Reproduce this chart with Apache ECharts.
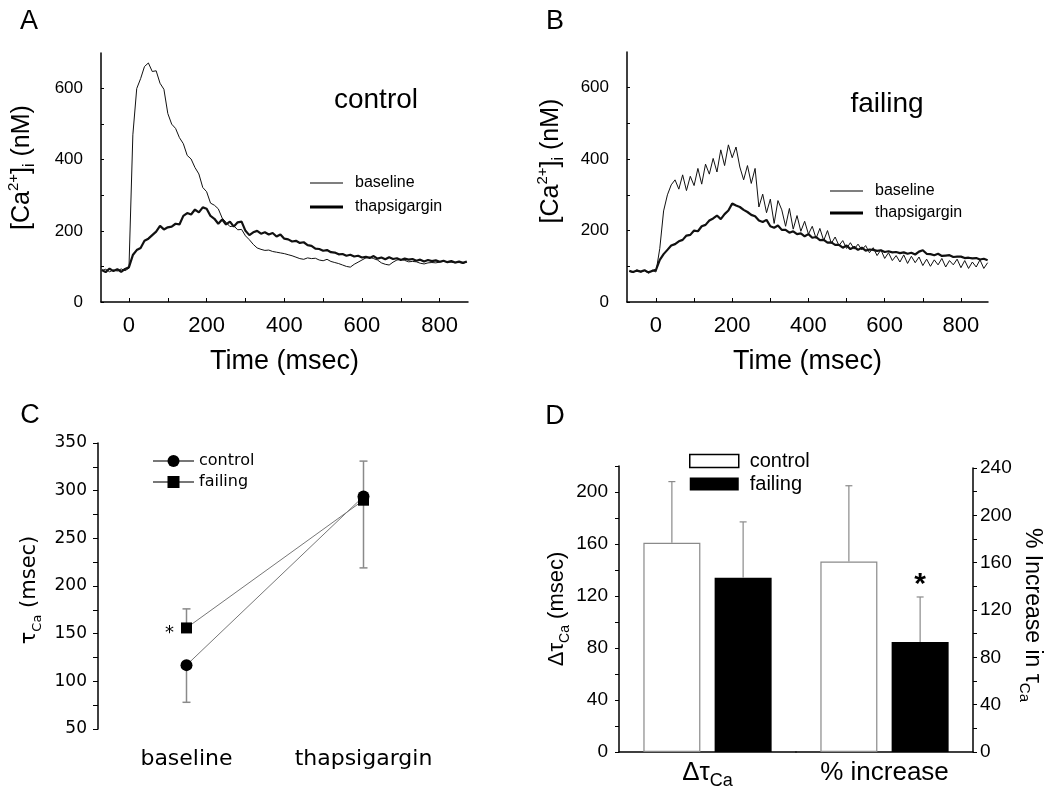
<!DOCTYPE html>
<html><head><meta charset="utf-8">
<script src="https://cdn.jsdelivr.net/npm/echarts@6/dist/echarts.min.js"></script>
<style>html,body{margin:0;padding:0;background:#fff}#c{width:1050px;height:798px}</style>
</head><body><div id="c"></div>
<script>
// ---------- data ----------
const T_START = -70, T_STEP = 10;
const aBaseline = [88,92,85,90,87,93,88,95,470,600,
  628,662,672,648,650,615,598,530,500,488,
  462,445,412,402,378,360,322,310,278,272,
  262,236,224,212,214,203,204,186,175,162,
  152,148,145,146,142,140,138,136,133,130,
  126,122,120,124,122,123,118,116,120,114,
  111,108,104,100,98,106,112,118,124,126,
  122,118,110,106,104,112,118,120,117,113,
  114,113,109,107,110,111,110,112,114,113,
  112,110,111,109,112];
const aThapsigargin = [90,84,94,87,92,85,93,98,132,146,
  152,172,178,188,198,214,204,210,212,220,
  218,242,250,246,260,252,266,262,242,234,
  220,232,218,226,212,224,226,200,188,196,
  200,192,196,190,194,184,190,178,176,170,
  172,166,168,160,158,150,149,144,146,140,
  139,134,135,130,133,128,130,125,127,124,
  129,122,125,120,126,121,123,118,122,119,
  121,116,119,114,118,115,117,113,116,112,
  115,111,114,110,114];
const bBaseline = [86,82,90,84,88,81,89,84,150,255,
  300,328,342,316,356,312,352,326,374,330,
  386,358,402,364,426,382,440,404,434,378,
  342,382,332,374,266,302,250,288,220,284,
  258,212,262,204,242,198,226,190,212,178,
  206,172,200,164,182,158,172,150,166,148,
  162,146,158,138,152,130,146,122,138,116,
  130,112,132,108,128,110,126,102,120,100,
  118,104,122,98,116,104,120,96,116,94,
  112,98,118,94,110];
const bThapsigargin = [87,84,88,85,89,83,87,90,118,134,
  146,158,162,170,174,186,188,200,198,212,
  216,228,234,242,232,246,256,276,270,266,
  258,252,244,240,228,224,230,212,208,214,
  202,202,194,198,190,192,184,190,180,182,
  173,174,166,167,160,160,152,158,148,154,
  146,152,144,147,146,143,145,140,142,139,
  140,137,139,135,138,133,141,145,135,134,
  131,135,129,130,131,126,127,127,123,124,
  122,123,119,121,117];
const timeTicks = [0,100,200,300,400,500,600,700,800];
const timeLabels = [0,200,400,600,800];
const caTicks = [0,100,200,300,400,500,600];
const caLabels = [0,200,400,600];

const cCategories = ['baseline', 'thapsigargin'];
const cControl = [117, 294];
const cFailing = [156, 290];
const cControlErrEnd = [78, 331];
const cFailingErrEnd = [176, 219];
const cFailingStar = [true, false];
const cTicks = [50,75,100,125,150,175,200,225,250,275,300,325,350];
const cLabels = [50,100,150,200,250,300,350];

const dCategories = ['ΔτCa', '% increase'];
const dControl = [161, 161];      // msec (left axis), % (right axis)
const dFailing = [134, 93];
const dControlErrEnd = [208, 225];
const dFailingErrEnd = [177, 131];
const dFailingStar = [false, true];
const dLeftTicks = [0,20,40,60,80,100,120,140,160,180,200,220];
const dLeftLabels = [0,40,80,120,160,200];
const dRightTicks = [0,20,40,60,80,100,120,140,160,180,200,220,240];
const dRightLabels = [0,40,80,120,160,200,240];

// ---------- helpers ----------
const SANS = '"Liberation Sans", Arial, Helvetica, sans-serif';
const DV = '"DejaVu Sans", sans-serif';
const BAR_W = 57, BAR_GAP = 0.25;
const BAR_OFF = BAR_W * (1 + BAR_GAP) / 2;
const toPairs = vals => vals.map((v, i) => [T_START + i * T_STEP, v]);

function traceX(grid, min, max) {
  return {type:'value', gridIndex:grid, min:min, max:max,
    axisLine:{onZero:false, lineStyle:{color:'#000', width:1.5}},
    axisTick:{inside:true, length:4, customValues:timeTicks, lineStyle:{color:'#000'}},
    axisLabel:{customValues:timeLabels, color:'#000', fontSize:22, fontFamily:SANS, margin:13},
    splitLine:{show:false},
    name:'Time (msec)', nameLocation:'middle', nameGap:46,
    nameTextStyle:{color:'#000', fontSize:27, fontFamily:SANS}};
}
function traceY(grid, gap, pad) {
  return {type:'value', gridIndex:grid, min:0, max:700,
    axisLine:{show:true, onZero:false, lineStyle:{color:'#000', width:1.5}},
    axisTick:{show:true, inside:true, length:3, customValues:caTicks, lineStyle:{color:'#000'}},
    axisLabel:{customValues:caLabels, color:'#000', fontSize:17, fontFamily:SANS, margin:18},
    splitLine:{show:false},
    name:'{m|[Ca}{sup|2+}{m|]}{sub|i}{m| (nM)}', nameLocation:'middle', nameRotate:90, nameGap:gap,
    nameTextStyle:{color:'#000', fontFamily:SANS, fontSize:25, padding:[0,0,0,pad],
      rich:{m:{fontSize:25, lineHeight:32, fontFamily:SANS, color:'#000'},
            sup:{fontSize:15, verticalAlign:'top', fontFamily:SANS, color:'#000'},
            sub:{fontSize:16, verticalAlign:'bottom', fontFamily:SANS, color:'#000'}}}};
}
function traceLine(name, x, y, vals, w) {
  return {type:'line', name:name, xAxisIndex:x, yAxisIndex:y, data:toPairs(vals),
    symbol:'none', showSymbol:false, sampling:null, silent:true,
    itemStyle:{color:'#000'}, lineStyle:{color:'#111', width:w}};
}
function errBars(x, y, vals, ends, side, stars, cap, width) {
  return {type:'custom', xAxisIndex:x, yAxisIndex:y, z:4, silent:true,
    data: vals.map((v, i) => [i, v, ends[i]]),
    renderItem: function (params, api) {
      const c = api.value(0), v = api.value(1), e = api.value(2);
      const p0 = api.coord([c, v]), p1 = api.coord([c, e]);
      const dx = side * BAR_OFF;
      const st = {stroke:'#8a8a8a', lineWidth:width};
      const ch = [
        {type:'line', shape:{x1:p0[0]+dx, y1:p0[1], x2:p1[0]+dx, y2:p1[1]}, style:st},
        {type:'line', shape:{x1:p1[0]+dx-cap, y1:p1[1], x2:p1[0]+dx+cap, y2:p1[1]}, style:st}
      ];
      if (stars && stars[params.dataIndex]) {
        ch.push({type:'text', style:{text:'*', x:p1[0]+dx, y:p1[1]-12, font:'bold 30px ' + SANS,
          align:'center', verticalAlign:'middle', textAlign:'center', textVerticalAlign:'middle', fill:'#000'}});
      }
      return {type:'group', children:ch};
    }};
}
function letter(t, x, y) {
  return {type:'text', style:{text:t, x:x, y:y, font:'27px ' + SANS, fill:'#000',
    align:'center', verticalAlign:'middle', textAlign:'center', textVerticalAlign:'middle'}};
}

const THIN_ICON = 'path://M0,0H33V1.2H0Z';
const THICK_ICON = 'path://M0,0H33V3H0Z';

const dLeftCats = [dCategories[0]];
const dRightCats = [dCategories[1]];
const dCatFmt = v => v === 'ΔτCa' ? '{m|Δτ}{s|Ca}' : '{m|' + v + '}';

const option = {
  animation:false,
  backgroundColor:'#fff',
  textStyle:{fontFamily:SANS, color:'#000'},
  graphic:[
    letter('A', 29, 22), letter('B', 555, 22), letter('C', 30, 416), letter('D', 555, 417),
    {type:'text', style:{text:'control', x:376, y:100, font:'28px ' + SANS, fill:'#000',
      align:'center', verticalAlign:'middle', textAlign:'center', textVerticalAlign:'middle'}},
    {type:'text', style:{text:'failing', x:887, y:104, font:'28px ' + SANS, fill:'#000',
      align:'center', verticalAlign:'middle', textAlign:'center', textVerticalAlign:'middle'}}
  ],
  legend:[
    {data:[{name:'baseline', icon:THIN_ICON},{name:'thapsigargin', icon:THICK_ICON}],
     orient:'vertical', left:310, top:175, padding:0, itemWidth:33, itemHeight:14, itemGap:8,
     selectedMode:false, textStyle:{fontSize:16, fontFamily:SANS, color:'#000', lineHeight:16, padding:[0,0,0,7]}},
    {data:[{name:'baseline', icon:THIN_ICON},{name:'thapsigargin', icon:THICK_ICON}],
     orient:'vertical', left:830, top:183, padding:0, itemWidth:33, itemHeight:14, itemGap:6,
     selectedMode:false, textStyle:{fontSize:16, fontFamily:SANS, color:'#000', lineHeight:16, padding:[0,0,0,7]}},
    {data:['control','failing'], orient:'vertical', left:152, top:453, padding:0,
     itemWidth:41, itemHeight:15, itemGap:5, selectedMode:false,
     textStyle:{fontSize:16, fontFamily:DV, color:'#000', lineHeight:15}},
    {data:[{name:'Dcontrol', itemStyle:{borderColor:'#000', borderWidth:1.5}},{name:'Dfailing'}],
     icon:'rect', orient:'vertical', left:689, top:451, padding:0, itemWidth:49, itemHeight:13, itemGap:3,
     selectedMode:false, formatter: n => n.slice(1),
     textStyle:{fontSize:20, fontFamily:SANS, color:'#000', lineHeight:14, padding:[0,0,0,6]}}
  ],
  grid:[
    {left:101, top:53, width:367, height:249},
    {left:627, top:52, width:361, height:250},
    {left:98, top:443, width:354, height:286},
    {left:619, top:466, width:177, height:286},
    {left:796, top:468, width:177, height:284}
  ],
  xAxis:[
    traceX(0, -72, 873),
    traceX(1, -76, 871),
    {type:'category', gridIndex:2, data:cCategories,
     axisLine:{show:false}, axisTick:{show:false},
     axisLabel:{interval:0, color:'#000', fontSize:22, fontFamily:DV, margin:19}},
    {type:'category', gridIndex:3, data:dLeftCats,
     axisLine:{lineStyle:{color:'#000', width:1.5}}, axisTick:{show:false},
     axisLabel:{interval:0, formatter:dCatFmt, margin:4,
       rich:{m:{fontSize:26, fontFamily:SANS, color:'#000', lineHeight:34},
             s:{fontSize:18, fontFamily:SANS, color:'#000', verticalAlign:'bottom'}}}},
    {type:'category', gridIndex:4, data:dRightCats,
     axisLine:{lineStyle:{color:'#000', width:1.5}}, axisTick:{show:false},
     axisLabel:{interval:0, formatter:dCatFmt, margin:4,
       rich:{m:{fontSize:26, fontFamily:SANS, color:'#000', lineHeight:34},
             s:{fontSize:18, fontFamily:SANS, color:'#000', verticalAlign:'bottom'}}}}
  ],
  yAxis:[
    traceY(0, 63, 20),
    traceY(1, 60, 32),
    {type:'value', gridIndex:2, min:50, max:350,
     axisLine:{show:true, onZero:false, lineStyle:{color:'#000', width:1.5}},
     axisTick:{show:true, length:5, customValues:cTicks, lineStyle:{color:'#000'}},
     axisLabel:{customValues:cLabels, color:'#000', fontSize:17, fontFamily:DV, margin:11},
     splitLine:{show:false},
     name:'{m|τ}{s|Ca}{m| (msec)}', nameLocation:'middle', nameRotate:90, nameGap:54,
     nameTextStyle:{fontFamily:DV, fontSize:21, color:'#000', padding:[0,8,0,0],
       rich:{m:{fontSize:21, fontFamily:DV, color:'#000', lineHeight:28},
             s:{fontSize:13, fontFamily:DV, color:'#000', verticalAlign:'bottom'}}}},
    {type:'value', gridIndex:3, min:0, max:220,
     axisLine:{show:true, onZero:false, lineStyle:{color:'#000', width:1.5}},
     axisTick:{show:true, length:4, customValues:dLeftTicks, lineStyle:{color:'#000'}},
     axisLabel:{customValues:dLeftLabels, color:'#000', fontSize:19, fontFamily:SANS, margin:11},
     splitLine:{show:false},
     name:'{m|Δτ}{s|Ca}{m| (msec)}', nameLocation:'middle', nameRotate:90, nameGap:35,
     nameTextStyle:{fontFamily:SANS, fontSize:22, color:'#000',
       rich:{m:{fontSize:22, fontFamily:SANS, color:'#000', lineHeight:30},
             s:{fontSize:14, fontFamily:SANS, color:'#000', verticalAlign:'bottom'}}}},
    {type:'value', gridIndex:4, position:'right', min:0, max:240,
     axisLine:{show:true, onZero:false, lineStyle:{color:'#000', width:1.5}},
     axisTick:{show:true, length:4, customValues:dRightTicks, lineStyle:{color:'#000'}},
     axisLabel:{customValues:dRightLabels, color:'#000', fontSize:19, fontFamily:SANS, margin:7},
     splitLine:{show:false},
     name:'{m|% Increase in τ}{s|Ca}', nameLocation:'middle', nameRotate:-90, nameGap:44,
     nameTextStyle:{fontFamily:SANS, fontSize:23, color:'#000', padding:[0,0,0,10],
       rich:{m:{fontSize:23, fontFamily:SANS, color:'#000', lineHeight:30},
             s:{fontSize:15, fontFamily:SANS, color:'#000', verticalAlign:'bottom'}}}}
  ],
  series:[
    traceLine('baseline', 0, 0, aBaseline, 1),
    traceLine('thapsigargin', 0, 0, aThapsigargin, 2.2),
    traceLine('baseline', 1, 1, bBaseline, 1),
    traceLine('thapsigargin', 1, 1, bThapsigargin, 2.2),
    errBars(2, 2, cControl, cControlErrEnd, 0, null, 4, 1.5),
    errBars(2, 2, cFailing, cFailingErrEnd, 0, null, 4, 1.5),
    {type:'line', name:'control', xAxisIndex:2, yAxisIndex:2, data:cControl, z:5,
     symbol:'circle', symbolSize:12, itemStyle:{color:'#000'}, lineStyle:{color:'#777', width:1}},
    {type:'line', name:'failing', xAxisIndex:2, yAxisIndex:2, data:cFailing, z:5,
     symbol:'rect', symbolSize:11, itemStyle:{color:'#000'}, lineStyle:{color:'#777', width:1},
     label:{show:true, position:'left', distance:7, offset:[0,5], fontSize:18, fontFamily:DV, color:'#000',
       formatter: p => cFailingStar[p.dataIndex] ? '*' : ''}},
    {type:'bar', name:'Dcontrol', xAxisIndex:3, yAxisIndex:3, data:[dControl[0]],
     barWidth:BAR_W, barGap:(BAR_GAP*100)+'%', itemStyle:{color:'#fff', borderColor:'#8a8a8a', borderWidth:1.2}},
    {type:'bar', name:'Dfailing', xAxisIndex:3, yAxisIndex:3, data:[dFailing[0]],
     barWidth:BAR_W, barGap:(BAR_GAP*100)+'%', itemStyle:{color:'#000'}},
    {type:'bar', name:'Dcontrol', xAxisIndex:4, yAxisIndex:4, data:[dControl[1]],
     barWidth:BAR_W, barGap:(BAR_GAP*100)+'%', itemStyle:{color:'#fff', borderColor:'#8a8a8a', borderWidth:1.2}},
    {type:'bar', name:'Dfailing', xAxisIndex:4, yAxisIndex:4, data:[dFailing[1]],
     barWidth:BAR_W, barGap:(BAR_GAP*100)+'%', itemStyle:{color:'#000'}},
    errBars(3, 3, [dControl[0]], [dControlErrEnd[0]], -1, null, 3.5, 1.2),
    errBars(3, 3, [dFailing[0]], [dFailingErrEnd[0]], 1, [dFailingStar[0]], 3.5, 1.2),
    errBars(4, 4, [dControl[1]], [dControlErrEnd[1]], -1, null, 3.5, 1.2),
    errBars(4, 4, [dFailing[1]], [dFailingErrEnd[1]], 1, [dFailingStar[1]], 3.5, 1.2)
  ]
};
const chart = echarts.init(document.getElementById('c'), null, {renderer:'canvas'});
chart.setOption(option);
</script>
</body></html>
